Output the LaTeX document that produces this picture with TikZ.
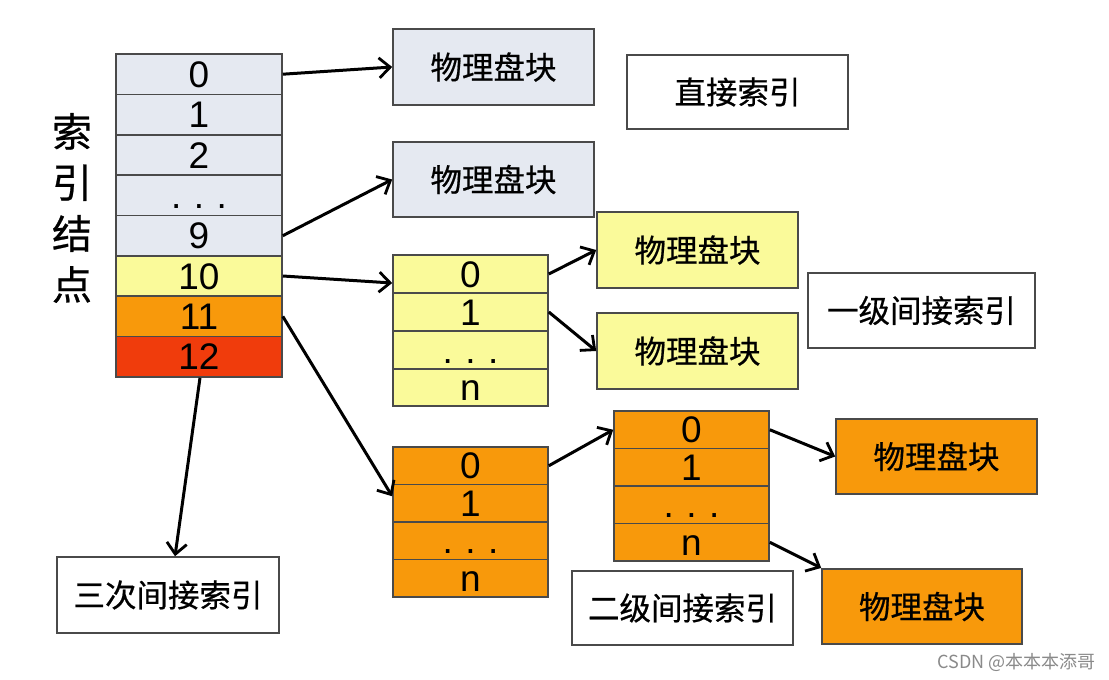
\documentclass[tikz,border=0pt]{standalone}
\usepackage{fontspec}
\setmainfont{Liberation Sans}
\newfontfamily\cjk{Noto Sans CJK SC}[FakeBold=0.6]
\newfontfamily\cjkw{Noto Sans CJK SC}
\usetikzlibrary{arrows.meta}
\definecolor{grayc}{HTML}{E5E9F1}
\definecolor{yelc}{HTML}{FAFA9A}
\definecolor{orac}{HTML}{F8990B}
\definecolor{redc}{HTML}{F03C0C}
\definecolor{bordc}{HTML}{4A4A4A}
\definecolor{wmc}{HTML}{8A8A8A}
\begin{document}
\begin{tikzpicture}[x=1pt,y=-1pt,
  box/.style={draw=bordc, line width=1.6pt, inner sep=0pt},
  cell/.style={box, text height=26pt, text depth=0pt, font=\fontsize{37}{40}\selectfont},
  inode/.style={cell, minimum width=166pt, minimum height=40.4pt},
  tab/.style={cell, minimum width=155pt, minimum height=37.5pt},
  blk/.style={box, minimum width=201pt, minimum height=75.5pt, font=\cjk\fontsize{31.5}{34}\selectfont},
  lab/.style={box, fill=white, minimum height=74.5pt, font=\cjk\fontsize{31.5}{34}\selectfont},
  arr/.style={line width=3pt, -{Straight Barb[length=11pt,width=20pt,line width=2.8pt]}}
]
\useasboundingbox[fill=white] (0,0) rectangle (1109,680);
\newcommand{\dts}{.\hspace{0.34em}.\hspace{0.34em}.}

% index node table
\node[inode, fill=grayc] (r0) at (199,74.2) {0};
\node[inode, fill=grayc] (r1) at (199,114.6) {1};
\node[inode, fill=grayc] (r2) at (199,155) {2};
\node[inode, fill=grayc] (r3) at (199,195.3) {\dts};
\node[inode, fill=grayc] (r9) at (199,235.7) {9};
\node[inode, fill=yelc] (r10) at (199,276) {10};
\node[inode, fill=orac] (r11) at (199,316.4) {11};
\node[inode, fill=redc] (r12) at (199,356.8) {12};

\node[font=\cjk\fontsize{40}{51}\selectfont, align=center, inner sep=0pt] (title) at (72,208) {索\\引\\结\\点};

% direct blocks
\node[blk, fill=grayc] (p1) at (493.5,67) {物理盘块};
\node[blk, fill=grayc] (p2) at (493.5,179.5) {物理盘块};
\node[lab, minimum width=221pt] (direct) at (737.5,92) {直接索引};

% single indirect
\node[tab, fill=yelc] (y0) at (470.5,274) {0};
\node[tab, fill=yelc] (y1) at (470.5,312) {1};
\node[tab, fill=yelc] (y2) at (470.5,350) {\dts};
\node[tab, fill=yelc] (yn) at (470.5,387.5) {n};
\node[blk, fill=yelc] (pa) at (697.5,250) {物理盘块};
\node[blk, fill=yelc] (pb) at (697.5,351) {物理盘块};
\node[lab, minimum width=227pt] (lvl1) at (921.5,310.5) {一级间接索引};

% double indirect
\node[tab, fill=orac] (o0) at (470.5,465.75) {0};
\node[tab, fill=orac] (o1) at (470.5,503.25) {1};
\node[tab, fill=orac] (o2) at (470.5,540.75) {\dts};
\node[tab, fill=orac] (on) at (470.5,578.25) {n};
\node[tab, fill=orac] (s0) at (691.5,429.75) {0};
\node[tab, fill=orac] (s1) at (691.5,467.25) {1};
\node[tab, fill=orac] (s2) at (691.5,504.75) {\dts};
\node[tab, fill=orac] (sn) at (691.5,542.25) {n};
\node[blk, fill=orac] (q1) at (936.5,456.5) {物理盘块};
\node[blk, fill=orac, minimum width=200pt] (q2) at (922,606.5) {物理盘块};
\node[lab, minimum width=221pt] (lvl2) at (682.5,608) {二级间接索引};

% triple indirect
\node[lab, minimum width=222pt, minimum height=76pt] (t3) at (168,595) {三次间接索引};

% watermark
\node[anchor=east, text=wmc, font=\cjkw\fontsize{18}{20}\selectfont, inner sep=0pt] (wm) at (1096,662) {CSDN @本本本添哥};

% arrows
\draw[arr] (r0.east) -- (p1.west);
\draw[arr] (r9.east) -- (p2.west);
\draw[arr] (r10.east) -- ([yshift=-9pt]y0.west);
\draw[arr] (y0.east) -- (pa.west);
\draw[arr] (y1.east) -- (pb.west);
\draw[arr] (r11.east) -- ([yshift=7pt]o1.west);
\draw[arr] ([xshift=1pt]r12.south) -- ([xshift=7pt]t3.north);
\draw[arr] (o0.east) -- (s0.west);
\draw[arr] (s0.east) -- (q1.west);
\draw[arr] (sn.east) -- (q2.north west);
\end{tikzpicture}
\end{document}
